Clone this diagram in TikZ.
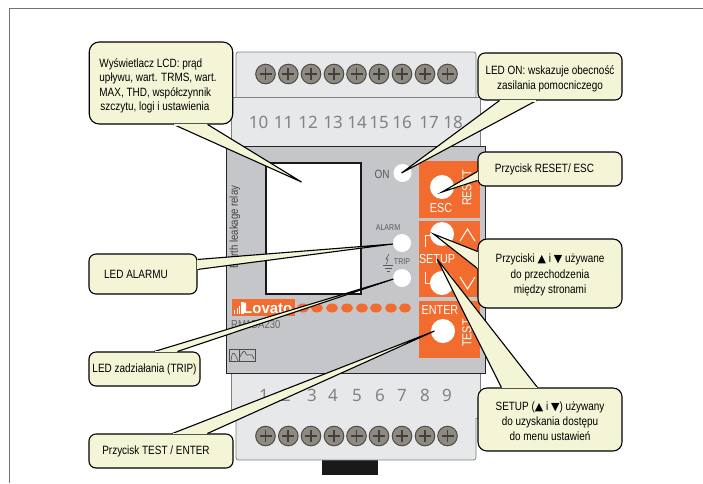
\documentclass[tikz,border=0pt]{standalone}
\usepackage{fontspec}
\setmainfont[FakeStretch=0.83]{Liberation Sans}
\newfontfamily\numfont{Noto Sans}
\newfontfamily\logofont{Liberation Sans}
\newfontfamily\trifont{DejaVu Sans}
\definecolor{relayorange}{HTML}{F36C2F}
\definecolor{relaygray}{HTML}{C5C6CA}
\definecolor{blockgray}{HTML}{E7E8E9}
\definecolor{digitgray}{HTML}{808285}
\definecolor{notefill}{HTML}{F3F5D6}
\definecolor{screwgray}{HTML}{8F8A80}
\usetikzlibrary{calc}
\newcommand{\uptri}{{\trifont\fontsize{11}{14}\selectfont ▲}}
\newcommand{\downtri}{{\trifont\fontsize{11}{14}\selectfont ▼}}
\newcommand{\notelines}[3]{\rule{0pt}{#1pt}\begin{tabular}[b]{@{}#2@{}}#3\end{tabular}}
\tikzset{
  notebox/.style={draw=black,fill=notefill,line width=1.1pt,rounded corners=7pt,
    align=center,inner sep=0,font=\fontsize{12}{15.3}\selectfont},
  digit/.style={anchor=base,text=digitgray,inner sep=0,font=\numfont\fontsize{17}{20}\selectfont},
  paneltext/.style={text=white,inner sep=0,font=\fontsize{13}{15}\selectfont},
  ledtext/.style={text=black!65,inner sep=0},
  whitebutton/.style={circle,fill=white,inner sep=0,minimum size=#1},
  chevron/.style={white,line width=1pt},
}
\newcommand{\notetail}[3]{
  \fill[notefill] #1 -- (#3) -- #2 -- cycle;
  \draw[black,line width=1.1pt,line join=miter] #1 -- (#3) -- #2;
  \draw[notefill,line width=1.9pt,shorten >=.7pt,shorten <=.7pt] #1 -- #2;
}
\begin{document}
\begin{tikzpicture}[x=1pt,y=-1pt]
  \useasboundingbox (0,0) rectangle (703,483);
  \fill[white] (0,0) rectangle (703,483);
  \draw[black!55,line width=1pt] (9,483) -- (9,8.5) -- (703,8.5);
  \fill[black!90] (322,458) rectangle (378,475);
  % terminal blocks
  \draw[black!50,fill=blockgray,line width=.7pt,rounded corners=2.5pt] (236,97) -- (236,52) -- (476,52) -- (476,97);
  \draw[black!50,fill=blockgray,line width=.7pt] (231,146) rectangle (480,97);
  \draw[black!50,fill=blockgray,line width=.7pt] (231,373) rectangle (480,418);
  \draw[black!50,fill=blockgray,line width=.7pt,rounded corners=2.5pt] (236,418) -- (236,460) -- (476,460) -- (476,418);
  \foreach \x in {265.5,288.3,311,334,356.5,379,402,425,447.5}{
    \foreach \y in {74,436}{
      \draw[black!70,fill=screwgray,line width=1pt] (\x,\y) circle (9.8);
      \draw[black!75,line width=1.9pt] (\x-6,\y) -- (\x+6,\y) (\x,\y-6) -- (\x,\y+6);
    }
  }
  \foreach \x/\num in {258.5/10,283.5/11,308/12,333/13,357/14,379/15,402/16,429/17,453/18}{
    \node[digit] (top\num) at (\x,128.5) {\num};
  }
  \foreach \x/\num in {264/1,286/2,312/3,333/4,357/5,380/6,402/7,425/8,447/9}{
    \node[digit] (bottom\num) at (\x,401.5) {\num};
  }
  % body
  \draw[black!85,fill=relaygray,line width=1pt] (226.5,146) rectangle (485,373);
  \draw[black!90,fill=white,line width=1.2pt] (266,163) rectangle (361,294);
  \node[rotate=90,inner sep=0,text=black!75,font=\fontsize{11.5}{12}\selectfont] (relayname) at (235,227) {Earth leakage relay};
  \fill[relayorange] (419,161) rectangle (480,218);
  \fill[relayorange] (419,221) rectangle (480,297);
  \fill[relayorange] (419,301) rectangle (480,358);
  \node[whitebutton=18pt] (onled) at (402.5,173) {};
  \node[whitebutton=24pt] (escbutton) at (442,187) {};
  \node[whitebutton=24pt] (upbutton) at (442,234) {};
  \node[whitebutton=24pt] (downbutton) at (442,283) {};
  \node[whitebutton=24pt] (enterbutton) at (443,331) {};
  \node[whitebutton=18pt] (alarmled) at (402,243) {};
  \node[whitebutton=18pt] (tripled) at (402,278) {};
  \node[ledtext,font=\fontsize{12}{14}\selectfont] (onlabel) at (382,174) {ON};
  \node[ledtext,font=\fontsize{8.5}{10}\selectfont] (alarmlabel) at (388,228) {ALARM};
  \node[ledtext,font=\fontsize{8.5}{10}\selectfont] (triplabel) at (402,262) {TRIP};
  \draw[black!65,line width=.6pt] (389,254) -- (386,259) -- (388,259) -- (386.5,264);
  \draw[black!65,line width=.6pt] (383,265) -- (393,265) (384.5,268) -- (391.5,268) (386.5,271) -- (389.5,271);
  \node[paneltext] (esclabel) at (441,208) {ESC};
  \node[paneltext,rotate=90] (resetlabel) at (467,188) {RESET};
  \node[paneltext] (setuplabel) at (437,259) {SETUP};
  \node[paneltext] (enterlabel) at (440,310) {ENTER};
  \node[paneltext,rotate=90] (testlabel) at (467,333) {TEST};
  \draw[chevron] (460,241) -- (467.5,229) -- (475,241);
  \draw[chevron] (460,277) -- (467.5,289) -- (475,277);
  \draw[chevron] (425,247) -- (425,235) -- (435,235);
  \draw[chevron] (425,272) -- (425,283) -- (435,283);
  \foreach \x in {303,317,332,347,362,376,391,405}{
    \fill[relayorange] (\x,308) ellipse (6 and 4.5);
  }
  \fill[relayorange] (232,299) rectangle (295,316);
  \foreach \x/\h in {234/4,236.5/6,239/8}{
    \fill[white] (\x,314) rectangle (\x+1.4,314-\h);
  }
  \fill[white] (241,302) rectangle (244,314);
  \node[anchor=west,text=white,inner sep=0,font=\logofont\bfseries\fontsize{15}{17}\selectfont] (logo) at (243,308) {Lovato};
  \node[anchor=west,text=black!60,inner sep=0,font=\fontsize{11.5}{12}\selectfont] (model) at (231,325) {RM1DA230};
  \draw[black!70,line width=.6pt] (229,349) rectangle (255,361) (239,349) -- (239,361);
  \draw[black!70,line width=.6pt] (231,361) .. controls (232,351) and (234,350) .. (238,361);
  \draw[black!70,line width=.6pt] (240,357) .. controls (243,350) and (245,350) .. (246,354) .. controls (248,358) and (251,350) .. (254,359);
  % callouts
  \coordinate (lcdtip) at (301.5,182);
  \coordinate (ontip) at (401.5,173);
  \coordinate (resettip) at (442,192);
  \coordinate (pagetip) at (433.5,234);
  \coordinate (setuptip) at (437,259);
  \coordinate (alarmtip) at (393,244);
  \coordinate (triptip) at (393.5,279);
  \coordinate (testtip) at (434.5,331);
  \node[notebox,rounded corners=10pt,minimum width=143.5pt,minimum height=82pt] (lcdnote) at (161,83)
    {\fontsize{12}{14.6}\selectfont\notelines{60}{l}{Wyświetlacz LCD: prąd\\upływu, wart. TRMS, wart.\\MAX, THD, współczynnik\\\hspace*{1pt}szczytu, logi i ustawienia}\hspace*{6pt}};
  \node[notebox,minimum width=144pt,minimum height=47pt] (onnote) at (550,76.5)
    {\notelines{31}{c}{LED ON: wskazuje obecność\\zasilania pomocniczego}};
  \node[notebox,minimum width=144pt,minimum height=34pt] (resetnote) at (550,169)
    {Przycisk RESET/ ESC\hspace*{11pt}};
  \node[notebox,rounded corners=9pt,minimum width=144pt,minimum height=69pt] (pagenote) at (550,273.5)
    {\notelines{44.3}{c}{Przyciski \uptri{} i \downtri{} używane\\do przechodzenia\\między stronami}};
  \node[notebox,rounded corners=9pt,minimum width=144pt,minimum height=63pt] (setupnote) at (550,419.5)
    {\notelines{47.3}{c}{SETUP (\uptri{} i \downtri{}) używany\\do uzyskania dostępu\\do menu ustawień}};
  \node[notebox,minimum width=108pt,minimum height=40pt] (alarmnote) at (143,274)
    {LED ALARMU\hspace*{14pt}};
  \node[notebox,minimum width=111pt,minimum height=34pt] (tripnote) at (144.5,369)
    {LED zadziałania (TRIP)};
  \node[notebox,minimum width=144pt,minimum height=34pt] (testnote) at (161,451)
    {Przycisk TEST / ENTER\hspace*{10pt}};
  \notetail{($(lcdnote.south west)+(85,0)$)}{($(lcdnote.south west)+(119,0)$)}{lcdtip}
  \notetail{($(onnote.south west)+(22,0)$)}{($(onnote.south west)+(59,0)$)}{ontip}
  \notetail{($(resetnote.north west)+(0,20)$)}{($(resetnote.north west)+(0,29)$)}{resettip}
  \notetail{($(pagenote.north west)+(0,13)$)}{($(pagenote.north west)+(0,30)$)}{pagetip}
  \notetail{($(setupnote.north west)+(24,0)$)}{($(setupnote.north west)+(60,0)$)}{setuptip}
  \notetail{($(alarmnote.north east)+(0,6)$)}{($(alarmnote.north east)+(0,16)$)}{alarmtip}
  \notetail{($(tripnote.north west)+(66,0)$)}{($(tripnote.north west)+(89,0)$)}{triptip}
  \notetail{($(testnote.north west)+(84,0)$)}{($(testnote.north west)+(119,0)$)}{testtip}
\end{tikzpicture}
\end{document}
